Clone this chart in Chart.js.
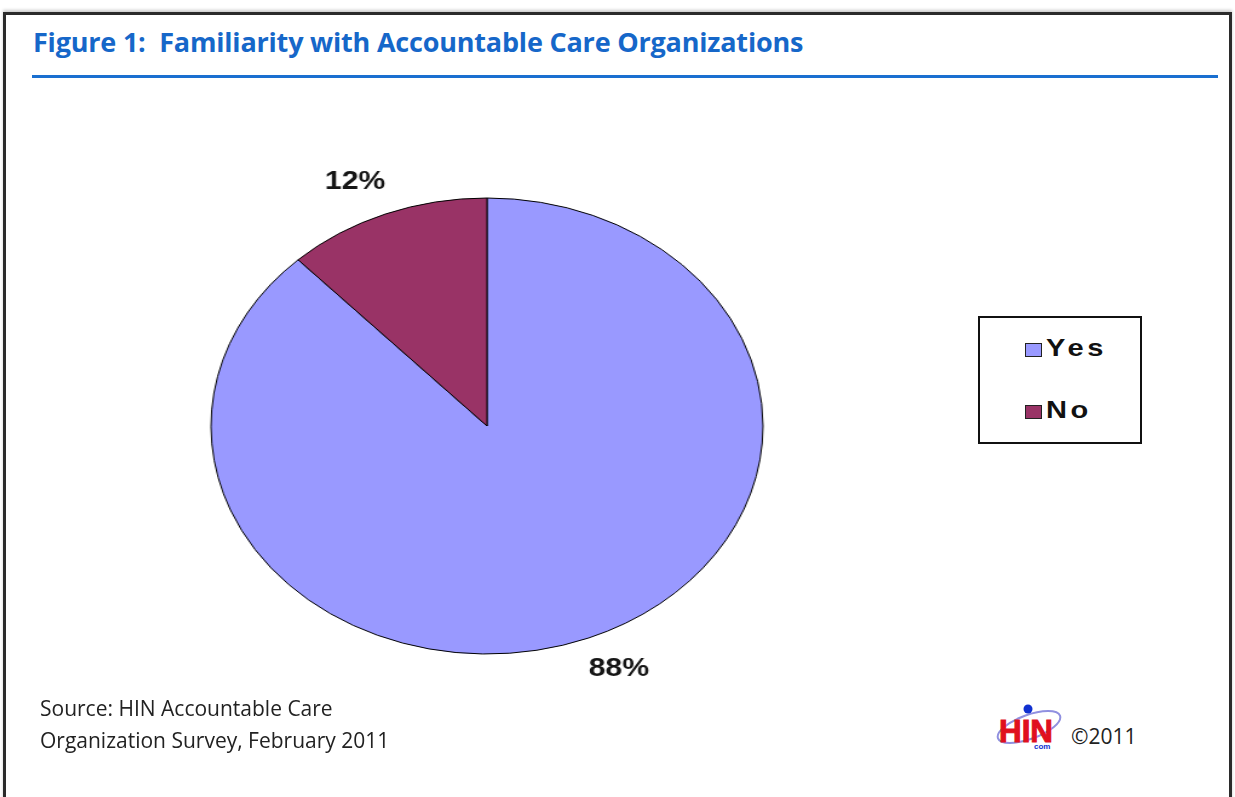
<!DOCTYPE html>
<html>
<head>
<meta charset="utf-8">
<script src="https://cdn.jsdelivr.net/npm/chart.js@4.4.1/dist/chart.umd.min.js"></script>
<style>
  body { margin: 0; background: #fff; width: 1235px; height: 797px; position: relative; overflow: hidden; font-family: "Open Sans", Lato, sans-serif; }
  #frame { position: absolute; left: 3px; top: 12px; width: 1223px; height: 800px; border: 3px solid #2b2b2b; border-bottom: none; box-shadow: 0 -2px 3px #ccc; }
  #title { position: absolute; left: 33px; top: 23px; font-weight: 700; font-size: 27px; color: #1667c9; white-space: nowrap; letter-spacing: -0.2px; }
  #rule { position: absolute; left: 32px; top: 75px; width: 1186px; height: 3px; background: #1a6fd0; }
  #pieWrap { position: absolute; left: 217px; top: 156px; width: 540px; height: 540px; transform: scaleX(1.2105); transform-origin: 50% 50%; }
  #legend { position: absolute; left: 978px; top: 316px; width: 160px; height: 124px; border: 2px solid #111; }
  .leg-item { position: absolute; left: 45px; height: 26px; }
  .leg-box { position: absolute; left: 0; top: 7px; width: 15px; height: 12px; border: 1px solid #222; }
  .leg-text { position: absolute; left: 21px; top: -2px; font-family: "Liberation Sans", Arial, sans-serif; font-weight: 700; font-size: 24px; letter-spacing: 3px; color: #111; transform: scaleX(1.21); transform-origin: 0 50%; }
  #source { position: absolute; left: 40px; top: 692px; font-size: 21px; line-height: 32px; color: #222; }
  #copy { position: absolute; left: 1071px; top: 722px; font-size: 21px; color: #222; }
  #logo { position: absolute; left: 994px; top: 700px; }
</style>
</head>
<body>
<div id="frame"></div>
<div id="title">Figure 1:&nbsp; Familiarity with Accountable Care Organizations</div>
<div id="rule"></div>
<div id="pieWrap"><canvas id="pieChart"></canvas></div>
<div id="legend"></div>
<div id="source">Source: HIN Accountable Care<br>Organization Survey, February 2011</div>
<svg id="logo" width="72" height="52" viewBox="0 0 72 52">
  <ellipse cx="35" cy="27" rx="33" ry="12" fill="none" stroke="#9090e0" stroke-width="2" transform="rotate(-20 35 27)"/>
  <text x="5" y="42" font-family="Liberation Sans, Arial" font-weight="700" font-size="32" fill="#e0101e" stroke="#e0101e" stroke-width="1" textLength="54" lengthAdjust="spacingAndGlyphs">HIN</text>
  <circle cx="34" cy="9" r="4.5" fill="#1030d0"/>
  <text x="40" y="49" font-family="Liberation Sans, Arial" font-weight="700" font-size="8" fill="#1030d0">com</text>
</svg>
<div id="copy">©2011</div>

<script>
const labels = ["Yes", "No"];
const values = [88, 12];
const sliceColors = ["#9999ff", "#993366"];

// percent labels around the pie, Excel style
const pctLabels = {
  id: 'pctLabels',
  afterDatasetsDraw(chart) {
    const ctx = chart.ctx;
    const arcs = chart.getDatasetMeta(0).data;
    ctx.save();
    ctx.font = 'bold 25px "Liberation Sans", Arial, sans-serif';
    ctx.fillStyle = '#151515';
    ctx.textAlign = 'center';
    ctx.textBaseline = 'middle';
    arcs.forEach((arc, i) => {
      const p = arc.getProps(['x', 'y', 'startAngle', 'endAngle', 'outerRadius'], true);
      const mid = (p.startAngle + p.endAngle) / 2;
      const r = p.outerRadius + 34;
      const text = values[i] + '%';
      const w = ctx.measureText(text).width;
      const x = p.x + Math.cos(mid) * r + Math.sign(Math.cos(mid)) * w * 0.25;
      const y = p.y + Math.sin(mid) * r;
      ctx.fillText(text, x, y);
    });
    ctx.restore();
  }
};

const ctx = document.getElementById('pieChart').getContext('2d');

const pieChart = new Chart(ctx, {
  type: 'pie',
  data: {
    labels: labels,
    datasets: [{
      data: values,
      backgroundColor: sliceColors,
      borderColor: '#000',
      borderWidth: 1,
      radius: 228
    }]
  },
  options: {
    responsive: true,
    maintainAspectRatio: false,
    animation: false,
    layout: { padding: 40 },
    plugins: {
      legend: { display: false },
      tooltip: { enabled: false }
    }
  },
  plugins: [pctLabels]
});

function buildLegend() {
  const legend = document.getElementById("legend");
  labels.forEach((name, i) => {
    const item = document.createElement("div");
    item.className = "leg-item";
    item.style.top = (i === 0 ? 18 : 80) + "px";
    const box = document.createElement("div");
    box.className = "leg-box";
    box.style.background = sliceColors[i];
    const txt = document.createElement("div");
    txt.className = "leg-text";
    txt.innerText = name;
    item.appendChild(box);
    item.appendChild(txt);
    legend.appendChild(item);
  });
}
buildLegend();
</script>
</body>
</html>
